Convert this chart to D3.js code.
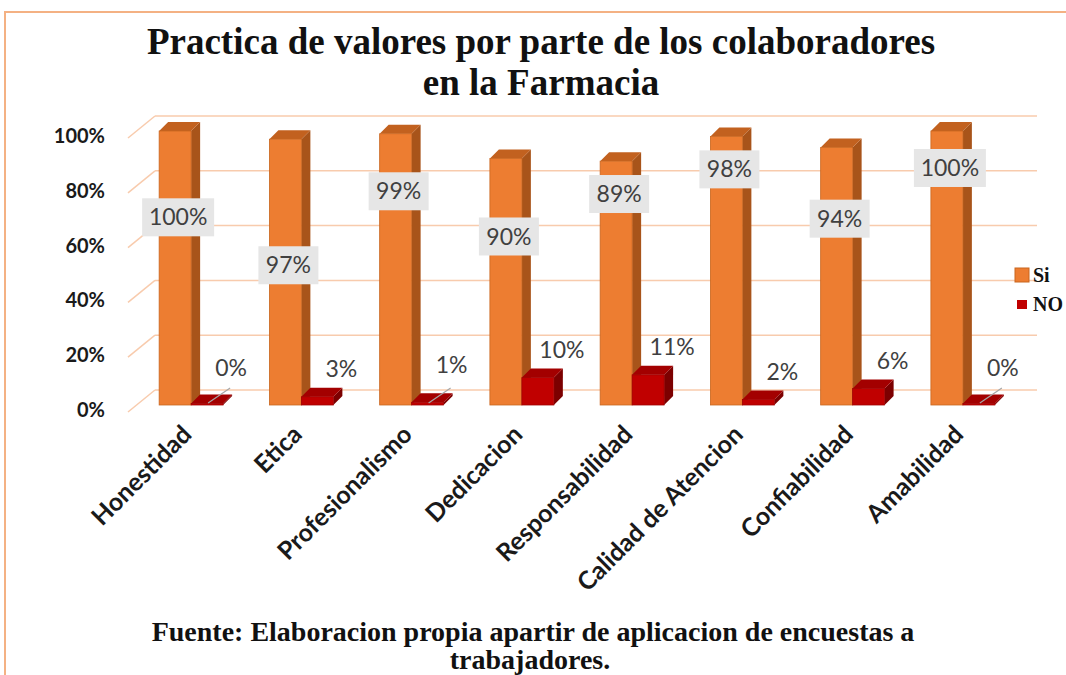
<!DOCTYPE html>
<html lang="es">
<head>
    <meta charset="UTF-8">
    <title>Practica de valores</title>
    <script src="https://d3js.org/d3.v7.min.js"></script>
    <style>
        body {margin: 0; background: #fff;}
        svg {display: block;}
    </style>
</head>
<body>
<script>
    const width = 1066;
    const height = 675;

    // data
    const categories = ["Honestidad", "Etica", "Profesionalismo", "Dedicacion",
        "Responsabilidad", "Calidad de Atencion", "Confiabilidad", "Amabilidad"];
    const siValues = [100, 97, 99, 90, 89, 98, 94, 100];
    const noValues = [0, 3, 1, 10, 11, 2, 6, 0];
    const seriesNames = ["Si", "NO"];
    const yTicks = [0, 20, 40, 60, 80, 100];
    // where the "Si" labels were dragged to (in % of the axis)
    const siLabelLevel = [68.5, 51, 78, 61.5, 77, 86, 68, 86.5];

    const depthX = 9, depthY = 9;        // bar depth
    const wallX = 27, wallY = 22;        // floor depth
    const frontShift = 15;               // bars stand in front of back wall

    const svg = d3.select("body").append("svg")
            .attr("width", width).attr("height", height);

    // frame
    svg.append("path")
            .attr("d", "M5,675 L5,12 L1070,12")
            .attr("fill", "none").attr("stroke", "#f4b183").attr("stroke-width", 2);

    // title
    svg.append("text").attr("class", "title")
            .attr("x", 541).attr("y", 54)
            .text("Practica de valores  por parte de los colaboradores");
    svg.append("text").attr("class", "title")
            .attr("x", 541).attr("y", 95)
            .text("en la Farmacia");

    // scales
    const y = d3.scaleLinear().domain([0, 100]).range([390, 116]);
    const x = d3.scaleBand().domain(categories).range([136, 1018])
            .paddingInner(0.42).paddingOuter(0.21);
    const xs = d3.scaleBand().domain(seriesNames).range([0, x.bandwidth()]);

    // back wall gridlines
    svg.append("g").selectAll("line.grid")
            .data(yTicks).enter()
            .append("line").attr("class", "grid")
            .attr("x1", 155).attr("x2", 1037)
            .attr("y1", d => y(d)).attr("y2", d => y(d));

    // side wall gridlines
    svg.append("g").selectAll("line.side")
            .data(yTicks).enter()
            .append("line").attr("class", "grid")
            .attr("x1", 155 - wallX).attr("x2", 155)
            .attr("y1", d => y(d) + wallY).attr("y2", d => y(d));

    // y axis
    const yAxis = svg.append("g").attr("class", "yaxis")
            .attr("transform", "translate(108,20)")
            .call(d3.axisLeft(y).tickValues(yTicks).tickSize(0).tickFormat(d => d + "%"));
    yAxis.select(".domain").remove();

    const colors = {
        Si: {front: "#ed7d31", top: "#c2611f", side: "#a8541a", stroke: "#c9661f"},
        NO: {front: "#c00000", top: "#a30000", side: "#7c0000", stroke: "#a00000"}
    };

    const bars = [];
    categories.forEach((c, i) => {
        bars.push({cat: c, s: "Si", v: siValues[i], i: i});
        bars.push({cat: c, s: "NO", v: noValues[i], i: i});
    });

    function drawBar(g, d) {
        const x0 = x(d.cat) + xs(d.s);
        const w = xs.bandwidth();
        const yb = y(0) + frontShift;
        const yt = Math.min(y(d.v) + frontShift, yb - 1.5);
        const col = colors[d.s];
        g.append("polygon")
                .attr("points", [[x0 + w, yt], [x0 + w + depthX, yt - depthY],
                    [x0 + w + depthX, yb - depthY], [x0 + w, yb]].join(" "))
                .attr("fill", col.side);
        g.append("polygon")
                .attr("points", [[x0, yt], [x0 + depthX, yt - depthY],
                    [x0 + w + depthX, yt - depthY], [x0 + w, yt]].join(" "))
                .attr("fill", col.top);
        g.append("rect")
                .attr("x", x0).attr("y", yt)
                .attr("width", w).attr("height", yb - yt)
                .attr("fill", col.front).attr("stroke", col.stroke).attr("stroke-width", 0.8);
    }

    const barG = svg.append("g");
    bars.forEach(d => drawBar(barG, d));

    // leader lines for the tiny values
    svg.append("g").selectAll("line.leader")
            .data(bars.filter(d => d.s === "NO" && d.v <= 1)).enter()
            .append("line").attr("class", "leader")
            .attr("x1", d => x(d.cat) + xs("NO") + xs.bandwidth() / 2 + 1)
            .attr("y1", y(0) + frontShift - 2)
            .attr("x2", d => x(d.cat) + xs("NO") + xs.bandwidth() / 2 + 23)
            .attr("y2", y(0) + frontShift - 17);

    // Si labels with grey box
    const siLab = svg.append("g").selectAll("g.silabel")
            .data(bars.filter(d => d.s === "Si")).enter()
            .append("g").attr("class", "silabel")
            .attr("transform", d => `translate(${x(d.cat) + xs.bandwidth() / 2 + 3},${y(siLabelLevel[d.i]) + frontShift})`);
    siLab.append("rect")
            .attr("x", d => d.v === 100 ? -36 : -30)
            .attr("y", -19)
            .attr("width", d => d.v === 100 ? 72 : 60)
            .attr("height", 38)
            .attr("fill", "#e6e6e6");
    siLab.append("text")
            .attr("class", "vlabel")
            .attr("dy", "0.35em")
            .text(d => d.v + "%");

    // NO labels
    svg.append("g").selectAll("text.nolabel")
            .data(bars.filter(d => d.s === "NO")).enter()
            .append("text").attr("class", "vlabel")
            .attr("x", d => x(d.cat) + xs("NO") + xs.bandwidth() / 2 + 24)
            .attr("y", d => y(d.v) + frontShift - (d.v <= 1 ? 37 : 28))
            .attr("dy", "0.35em")
            .text(d => d.v + "%");

    // category labels
    svg.append("g").selectAll("text.cat")
            .data(categories).enter()
            .append("text").attr("class", "cat")
            .attr("transform", d => `translate(${x(d) + x.bandwidth() / 2 + 2},436) rotate(-45)`)
            .text(d => d);

    // legend
    const legend = svg.append("g").attr("transform", "translate(1015,268)");
    legend.append("rect").attr("x", 0).attr("y", 0).attr("width", 14).attr("height", 14)
            .attr("fill", "#ed7d31").attr("stroke", "#c9661f");
    legend.append("text").attr("class", "legend").attr("x", 18).attr("y", 14).text("Si");
    legend.append("rect").attr("x", 2).attr("y", 32).attr("width", 10).attr("height", 9)
            .attr("fill", "#c00000");
    legend.append("text").attr("class", "legend").attr("x", 18).attr("y", 43).text("NO");

    // source note
    svg.append("text").attr("class", "source")
            .attr("x", 533).attr("y", 641)
            .text("Fuente: Elaboracion propia apartir  de aplicacion de encuestas a");
    svg.append("text").attr("class", "source")
            .attr("x", 530).attr("y", 669)
            .text("trabajadores.");
</script>
<style>
    .title {
        font-family: "Liberation Serif", serif;
        font-weight: bold;
        font-size: 37px;
        text-anchor: middle;
        fill: #111;
    }
    .grid {
        stroke: #f8cbad;
        stroke-width: 1.5;
    }
    .yaxis text {
        font-family: Lato, sans-serif;
        font-weight: bold;
        font-size: 20px;
        fill: #1a1a1a;
    }
    .vlabel {
        font-family: Lato, sans-serif;
        font-size: 23px;
        fill: #404040;
        text-anchor: middle;
    }
    .leader {
        stroke: #a6a6a6;
        stroke-width: 1.2;
    }
    .cat {
        font-family: Lato, sans-serif;
        font-weight: bold;
        font-size: 25px;
        fill: #1a1a1a;
        text-anchor: end;
    }
    .legend {
        font-family: "Liberation Serif", serif;
        font-weight: bold;
        font-size: 20px;
        fill: #111;
    }
    .source {
        font-family: "Liberation Serif", serif;
        font-weight: bold;
        font-size: 28px;
        text-anchor: middle;
        fill: #111;
    }
</style>
</body>
</html>
